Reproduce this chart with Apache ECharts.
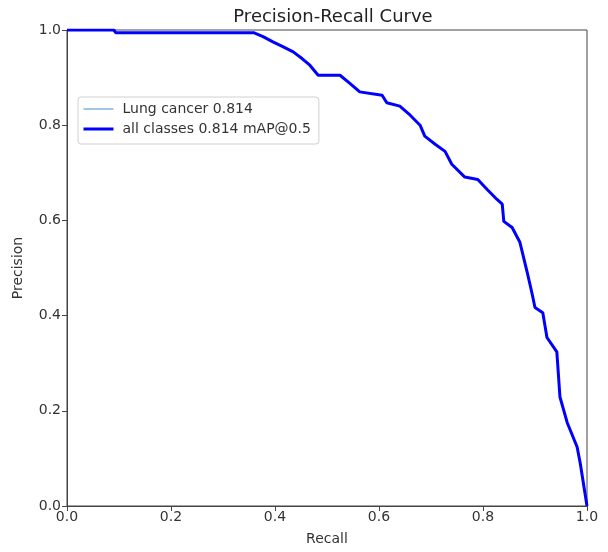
<!DOCTYPE html>
<html>
<head>
<meta charset="utf-8">
<script src="https://cdn.jsdelivr.net/npm/echarts@6/dist/echarts.min.js"></script>
<style>html,body{margin:0;padding:0;background:#fff;}#c{width:608px;height:552px;}</style>
</head>
<body>
<div id="c"></div>
<script>
const recall = [0, 0.09, 0.094, 0.36, 0.377, 0.396, 0.415, 0.435, 0.452, 0.467, 0.483, 0.525, 0.544, 0.563, 0.606, 0.615, 0.640, 0.660, 0.679, 0.688, 0.708, 0.727, 0.740, 0.765, 0.79, 0.808, 0.827, 0.837, 0.840, 0.856, 0.871, 0.885, 0.894, 0.900, 0.915, 0.923, 0.942, 0.948, 0.962, 0.981, 0.987, 1.0];
const precision = [1, 1, 0.994, 0.994, 0.986, 0.975, 0.965, 0.954, 0.940, 0.926, 0.905, 0.905, 0.888, 0.870, 0.863, 0.847, 0.840, 0.821, 0.800, 0.777, 0.760, 0.745, 0.718, 0.691, 0.686, 0.665, 0.644, 0.634, 0.598, 0.585, 0.554, 0.491, 0.448, 0.417, 0.406, 0.354, 0.324, 0.229, 0.175, 0.124, 0.09, 0];
const seriesNames = ['Lung cancer 0.814', 'all classes 0.814 mAP@0.5'];
const chartTitle = 'Precision-Recall Curve';
const xName = 'Recall';
const yName = 'Precision';

const pts = recall.map((r, i) => [r, precision[i]]);
const font = 'DejaVu Sans';
const chart = echarts.init(document.getElementById('c'));
chart.setOption({
  animation: false,
  backgroundColor: '#fff',
  title: {
    text: chartTitle, left: 328, top: 3, textAlign: 'center',
    textStyle: {fontFamily: font, fontSize: 18, fontWeight: 'normal', color: '#222'}
  },
  legend: {
    orient: 'vertical', left: 78, top: 97,
    borderColor: '#d0d0d0', borderWidth: 1, borderRadius: 3,
    padding: [4, 8, 7, 4], itemGap: 4, itemWidth: 30, itemHeight: 4,
    itemStyle: {opacity: 0},
    textStyle: {fontFamily: font, fontSize: 14, color: '#333', lineHeight: 16, padding: [0, 0, 0, 4]},
    data: [
      {name: seriesNames[0], lineStyle: {width: 1.5}},
      {name: seriesNames[1], lineStyle: {width: 3}}
    ]
  },
  grid: {left: 67, right: 21, top: 30, bottom: 46, show: true, borderColor: '#444', borderWidth: 1},
  xAxis: {
    type: 'value', min: 0, max: 1, interval: 0.2,
    name: xName, nameLocation: 'middle', nameGap: 26,
    nameTextStyle: {fontFamily: font, fontSize: 14, color: '#333'},
    axisLine: {show: true, lineStyle: {color: '#444'}},
    axisTick: {show: true, length: 5, lineStyle: {color: '#444'}},
    axisLabel: {fontFamily: font, fontSize: 14, color: '#333', margin: 4, formatter: v => v.toFixed(1)},
    splitLine: {show: false}
  },
  yAxis: {
    type: 'value', min: 0, max: 1, interval: 0.2,
    name: yName, nameLocation: 'middle', nameGap: 42,
    nameTextStyle: {fontFamily: font, fontSize: 14, color: '#333'},
    axisLine: {show: true, lineStyle: {color: '#444'}},
    axisTick: {show: true, length: 5, lineStyle: {color: '#444'}},
    axisLabel: {fontFamily: font, fontSize: 14, color: '#333', margin: 6, formatter: v => v.toFixed(1)},
    splitLine: {show: false}
  },
  series: [
    {name: seriesNames[0], type: 'line', data: pts, symbol: 'none', lineStyle: {width: 1, color: '#7fb3dc'}, itemStyle: {color: '#7fb3dc'}},
    {name: seriesNames[1], type: 'line', data: pts, symbol: 'none', lineStyle: {width: 3, color: '#0000ff'}, itemStyle: {color: '#0000ff'}}
  ]
});
</script>
</body>
</html>
